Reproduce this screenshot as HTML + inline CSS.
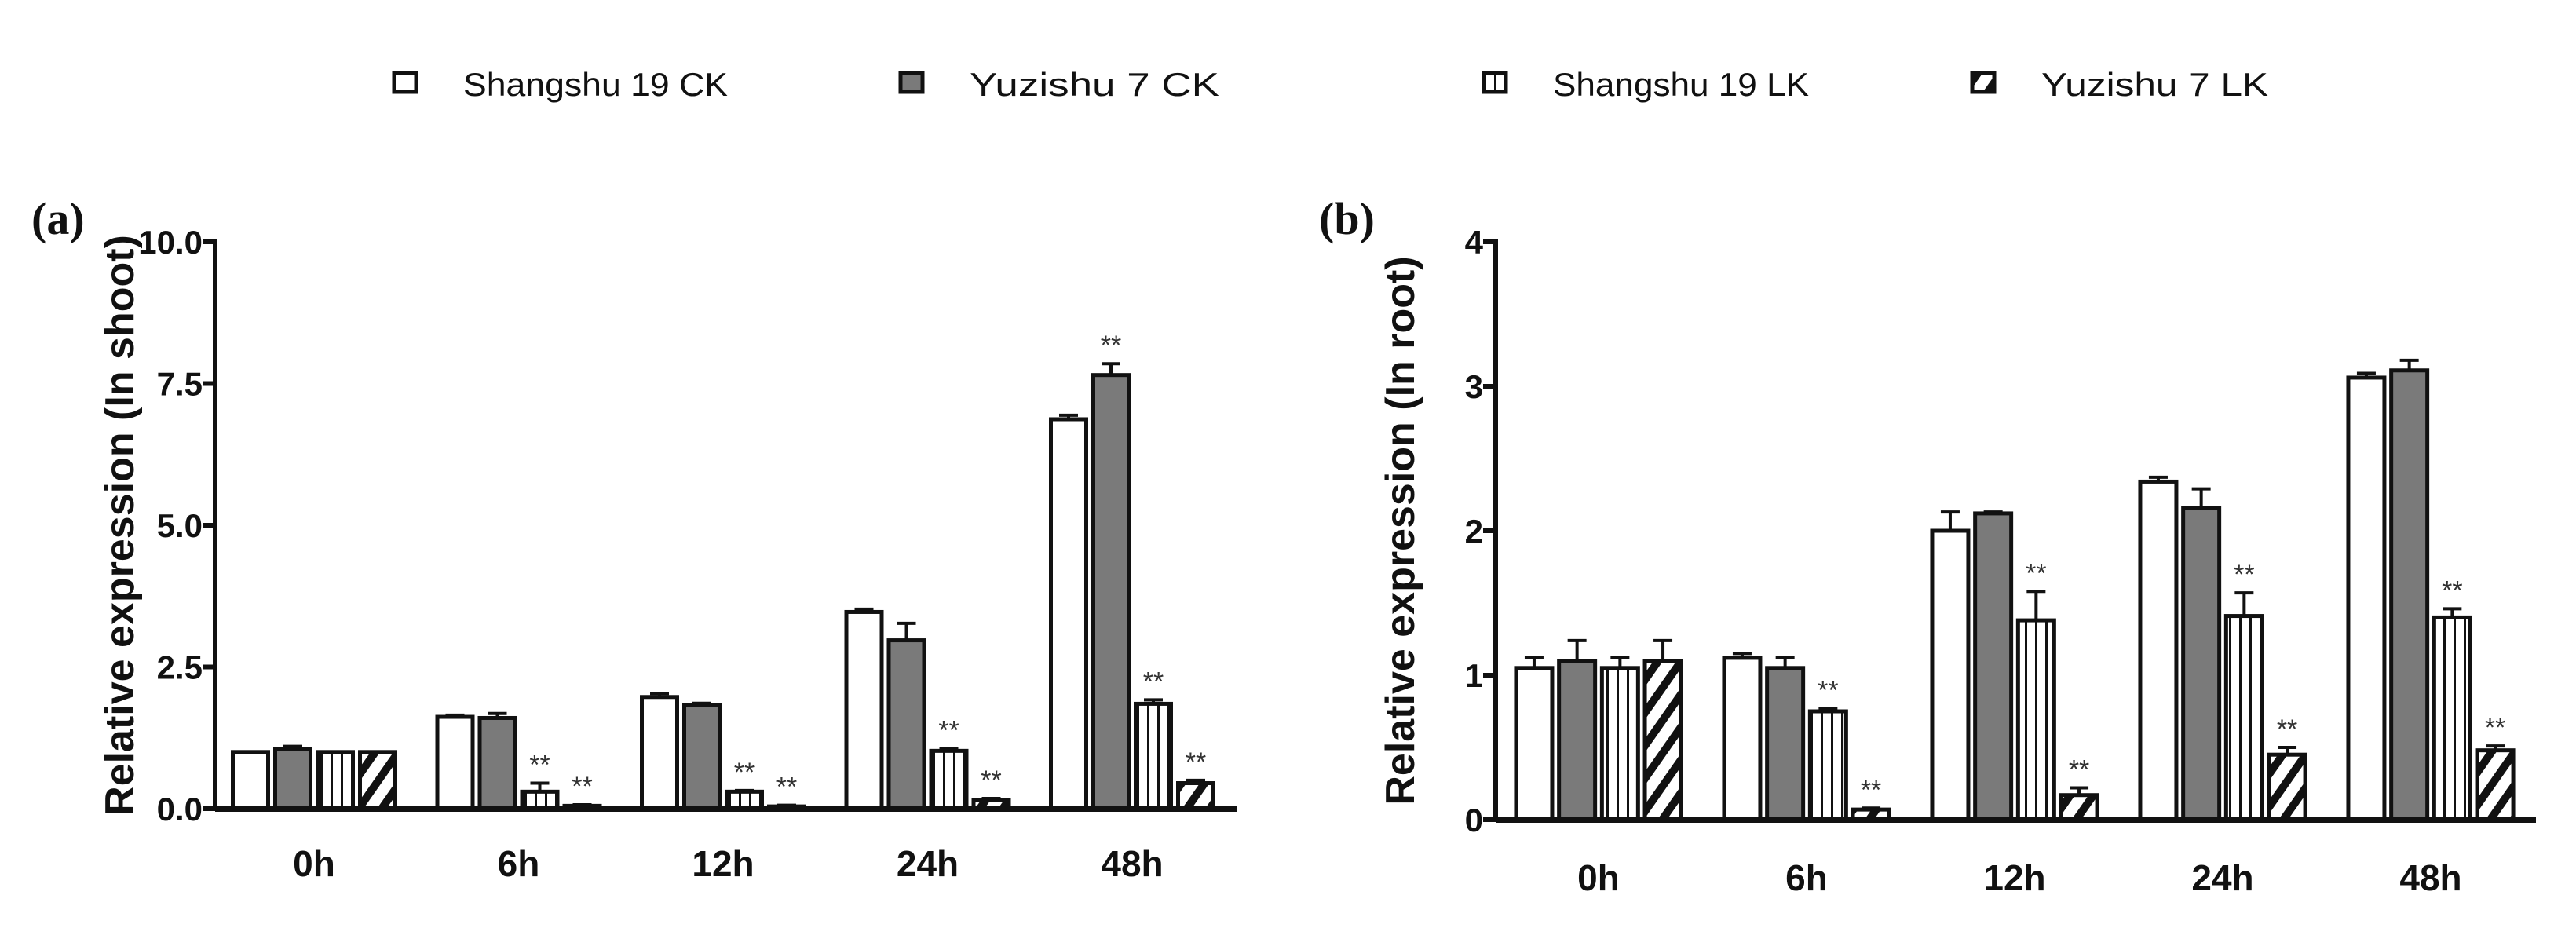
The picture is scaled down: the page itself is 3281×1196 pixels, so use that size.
<!DOCTYPE html>
<html><head><meta charset="utf-8">
<style>
html,body{margin:0;padding:0;background:#fff;}
svg{display:block;}
</style></head>
<body>
<svg id="fig" width="3281" height="1196" viewBox="0 0 3281 1196" xmlns="http://www.w3.org/2000/svg" font-family="Liberation Sans, Arial, sans-serif">
<defs>
<pattern id="vstripe" width="13" height="10" patternUnits="userSpaceOnUse">
<rect width="13" height="10" fill="#fff"/><line x1="6.5" y1="0" x2="6.5" y2="10" stroke="#111" stroke-width="3"/>
</pattern>
<pattern id="diag" width="24" height="24" patternUnits="userSpaceOnUse" patternTransform="rotate(35)">
<rect width="24" height="24" fill="#fff"/><rect x="0" y="0" width="10" height="24" fill="#111"/>
</pattern>
</defs>
<g id="legend"></g>
<g id="chartA"></g>
<g id="chartB"></g>
</svg>
<script>
const categories = ["0h","6h","12h","24h","48h"];
const seriesNames = ["Shangshu 19 CK","Yuzishu 7 CK","Shangshu 19 LK","Yuzishu 7 LK"];
const shootS19CK = [1.0,1.62,1.97,3.47,6.87];
const shootY7CK = [1.05,1.6,1.83,2.97,7.65];
const shootS19LK = [1.0,0.3,0.3,1.02,1.85];
const shootY7LK = [1.0,0.05,0.04,0.15,0.45];
const shootErrS19CK = [0,0.03,0.06,0.05,0.07];
const shootErrY7CK = [0.05,0.08,0.03,0.3,0.2];
const shootErrS19LK = [0,0.15,0.02,0.04,0.07];
const shootErrY7LK = [0,0.02,0.02,0.03,0.05];
const shootStarsY7CK = [false,false,false,false,true];
const shootStarsLK = [false,true,true,true,true];
const shootTicks = [0,2.5,5,7.5,10];
const shootTickLabels = ["0.0","2.5","5.0","7.5","10.0"];
const rootS19CK = [1.05,1.12,2.0,2.34,3.06];
const rootY7CK = [1.1,1.05,2.12,2.16,3.11];
const rootS19LK = [1.05,0.75,1.38,1.41,1.4];
const rootY7LK = [1.1,0.07,0.17,0.45,0.48];
const rootErrS19CK = [0.07,0.03,0.13,0.03,0.03];
const rootErrY7CK = [0.14,0.07,0.01,0.13,0.07];
const rootErrS19LK = [0.07,0.02,0.2,0.16,0.06];
const rootErrY7LK = [0.14,0.01,0.05,0.05,0.03];
const rootStarsY7CK = [false,false,false,false,false];
const rootStarsLK = [false,true,true,true,true];
const rootTicks = [0,1,2,3,4];
const rootTickLabels = ["0","1","2","3","4"];

const NS="http://www.w3.org/2000/svg";
function mk(parent,tag,attrs,txt){const e=document.createElementNS(NS,tag);for(const k in attrs)e.setAttribute(k,attrs[k]);if(txt!==undefined)e.textContent=txt;parent.appendChild(e);return e;}
const fills=["#fff","#7a7a7a","url(#vstripe)","url(#diag)"];

// legend
const lg=document.getElementById('legend');
const lgX=[502,1147,1890,2512];
const lgW=[337,318,326,289];
seriesNames.forEach((n,i)=>{
  const g=mk(lg,'g',{});
  
  
  mk(g,'rect',{x:lgX[i],y:93,width:28,height:24,fill:fills[i],stroke:'#111','stroke-width':5});
  mk(g,'text',{x:lgX[i]+88,y:122,'font-size':42,fill:'#111',textLength:lgW[i],lengthAdjust:'spacingAndGlyphs'},n);
});

function drawChart(gid,o){
  const g=document.getElementById(gid);
  const yS=v=>o.y0-(v-o.min)/(o.max-o.min)*(o.y0-o.yTop);
  const xC=i=>o.firstCenter+i*o.groupStep;
  const pl=mk(g,'text',{x:o.labelX,y:298,'font-size':58,'font-family':'Liberation Serif, serif','font-weight':'bold',fill:'#111'},o.label);
  
  
  const yt=mk(g,'text',{x:0,y:0,'font-size':52,'font-weight':'bold',fill:'#111','text-anchor':'middle',transform:`translate(${o.axisX-104},${(o.y0+o.yTop)/2}) rotate(-90)`},o.title);
  
  
  const vals=[o.s0,o.s1,o.s2,o.s3], errs=[o.e0,o.e1,o.e2,o.e3];
  categories.forEach((c,i)=>{
    for(let s=0;s<4;s++){
      const x=xC(i)-1.5*o.pitch+s*o.pitch-o.bw/2;
      const cx=x+o.bw/2;
      const v=vals[s][i], y=yS(v), ey=yS(v+errs[s][i]);
      if(errs[s][i]>0){
        const el=mk(g,'path',{d:`M${cx},${y} V${ey} M${cx-12},${ey} H${cx+12}`,stroke:'#111','stroke-width':4,fill:'none'});
        
        
      }
      const r=mk(g,'rect',{x:x,y:y,width:o.bw,height:Math.max(o.y0-y,0),fill:fills[s],stroke:'#111','stroke-width':5});
      
      
      const star=(s===1&&o.starsCK[i])||(s>=2&&o.starsLK[i]);
      if(star){
        const t=mk(g,'text',{x:cx,y:ey-12,'font-size':34,fill:'#333','text-anchor':'middle'},'**');
        
        
      }
    }
    const xl=mk(g,'text',{x:xC(i),y:o.y0+o.labOff,'font-size':46,'font-weight':'bold',fill:'#111','text-anchor':'middle'},c);
    
    
  });
  o.ticks.forEach((t,k)=>{
    mk(g,'line',{x1:o.axisX-16,x2:o.axisX,y1:yS(t),y2:yS(t),stroke:'#111','stroke-width':6});
    const tl=mk(g,'text',{x:o.axisX-16,y:yS(t)+15,'font-size':42,'font-weight':'bold',fill:'#111','text-anchor':'end'},o.tickLabels[k]);
    
    
  });
  const ya=mk(g,'line',{x1:o.axisX,x2:o.axisX,y1:o.yTop-3,y2:o.y0+3,stroke:'#111','stroke-width':6});
  
  
  const xa=mk(g,'line',{x1:o.axisX,x2:o.xEnd,y1:o.y0,y2:o.y0,stroke:'#111','stroke-width':8});
  
  
}
drawChart('chartA',{label:'(a)',labelX:40,title:'Relative expression (In shoot)',axisX:274,y0:1030,yTop:308,min:0,max:10,xEnd:1576,
  firstCenter:400,groupStep:260.5,pitch:54,bw:45,labOff:86,ticks:shootTicks,tickLabels:shootTickLabels,
  s0:shootS19CK,s1:shootY7CK,s2:shootS19LK,s3:shootY7LK,e0:shootErrS19CK,e1:shootErrY7CK,e2:shootErrS19LK,e3:shootErrY7LK,
  starsCK:shootStarsY7CK,starsLK:shootStarsLK});
drawChart('chartB',{label:'(b)',labelX:1680,title:'Relative expression (In root)',axisX:1905,y0:1044,yTop:308,min:0,max:4,xEnd:3230,
  firstCenter:2036,groupStep:265,pitch:54.7,bw:46,labOff:90,ticks:rootTicks,tickLabels:rootTickLabels,
  s0:rootS19CK,s1:rootY7CK,s2:rootS19LK,s3:rootY7LK,e0:rootErrS19CK,e1:rootErrY7CK,e2:rootErrS19LK,e3:rootErrY7LK,
  starsCK:rootStarsY7CK,starsLK:rootStarsLK});
</script>
</body></html>
